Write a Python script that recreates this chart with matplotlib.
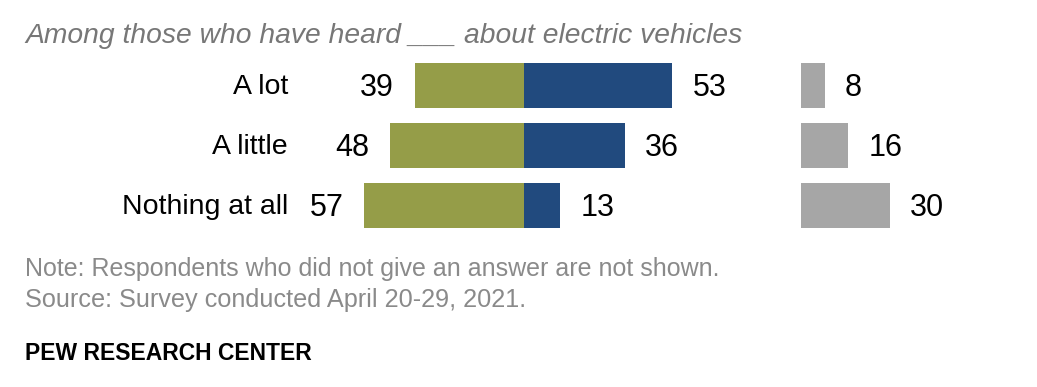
import matplotlib.pyplot as plt

# data
categories = ["A lot", "A little", "Nothing at all"]
left_vals = [39, 48, 57]      # green, drawn to the left
right_vals = [53, 36, 13]     # blue, drawn to the right
gray_vals = [8, 16, 30]

title = "Among those who have heard ___ about electric vehicles"
note = "Note: Respondents who did not give an answer are not shown."
source = "Source: Survey conducted April 20-29, 2021."
brand = "PEW RESEARCH CENTER"

GREEN = "#959d48"
BLUE = "#214a7e"
GRAY = "#a6a6a6"

W, H = 1037, 387
plt.rcParams["font.family"] = ["Liberation Sans", "DejaVu Sans"]

fig = plt.figure(figsize=(W / 100, H / 100), dpi=100)

def px_axes(left, top, width, height):
    return fig.add_axes([left / W, (H - top - height) / H, width / W, height / H])

# diverging bars: center at x=524 px, 2.8 px per unit
scale = 2.8
ax = px_axes(524 - 60 * scale, 55, 120 * scale, 180)
ax.set_xlim(-60, 60)
ax.set_ylim(2.5, -0.5)
ys = range(len(categories))
ax.barh(ys, [-v for v in left_vals], height=0.75, color=GREEN)
ax.barh(ys, right_vals, height=0.75, color=BLUE)
ax.axis("off")

num_fs = 22
cat_fs = 20.5
for y, cat, lv, rv in zip(ys, categories, left_vals, right_vals):
    ax.annotate(str(lv), (-lv, y), xytext=(-15, -2.5), textcoords="offset points",
                ha="right", va="center", fontsize=num_fs)
    ax.annotate(str(rv), (rv, y), xytext=(14.5, -2.5), textcoords="offset points",
                ha="left", va="center", fontsize=num_fs)
    ax.annotate(cat, (-60, y), xytext=(-49, -1.5), textcoords="offset points",
                ha="right", va="center", fontsize=cat_fs)

# gray bars on their own axis
gscale = 2.95
gax = px_axes(801, 55, 40 * gscale, 180)
gax.set_xlim(0, 40)
gax.set_ylim(2.5, -0.5)
gax.barh(ys, gray_vals, height=0.75, color=GRAY)
gax.axis("off")
for y, v in zip(ys, gray_vals):
    gax.annotate(str(v), (v, y), xytext=(14.5, -2.5), textcoords="offset points",
                 ha="left", va="center", fontsize=num_fs)

# header / footer text
fig.text(25 / W, 1 - 36 / H, title, ha="left", va="center", fontsize=20.3,
         style="italic", color="#777777")
fig.text(25 / W, 1 - 269 / H, note, ha="left", va="center", fontsize=18,
         color="#8a8a8a")
fig.text(25 / W, 1 - 300 / H, source, ha="left", va="center", fontsize=18.2,
         color="#8a8a8a")
fig.text(25 / W, 1 - 353 / H, brand, ha="left", va="center", fontsize=16.5,
         weight="bold", color="black")

fig.savefig("out.png", dpi=100)
